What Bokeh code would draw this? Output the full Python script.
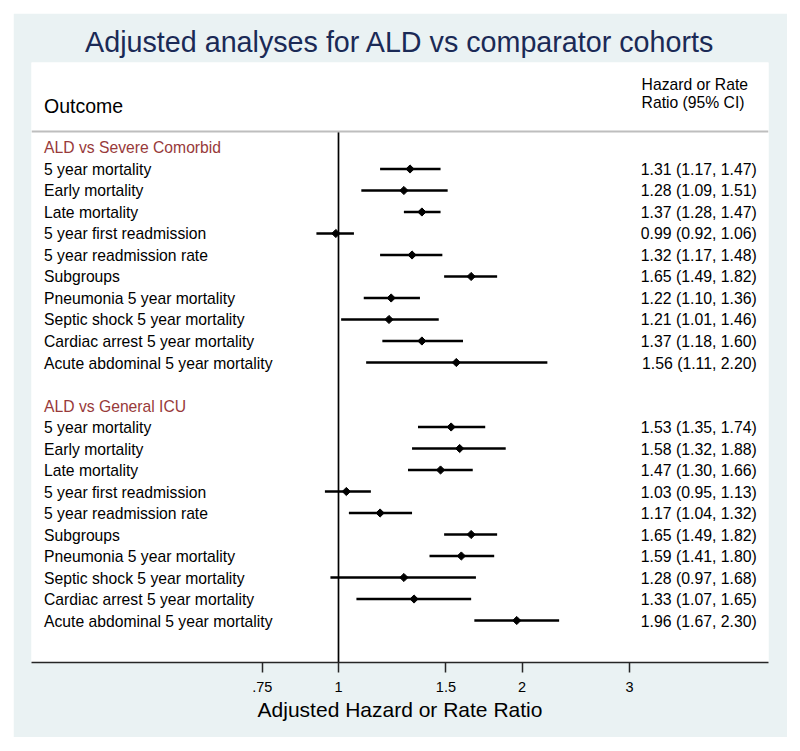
import math
from bokeh.plotting import figure
from bokeh.models import Range1d, FixedTicker, Span
from bokeh.core.properties import value
from bokeh.embed import file_html
from bokeh.resources import INLINE

# ---------------- data ----------------
groups = ["ALD vs Severe Comorbid", "ALD vs General ICU"]
outcomes = ["5 year mortality", "Early mortality", "Late mortality",
            "5 year first readmission", "5 year readmission rate", "Subgroups",
            "Pneumonia 5 year mortality", "Septic shock 5 year mortality",
            "Cardiac arrest 5 year mortality", "Acute abdominal 5 year mortality"]
severe_est = [1.31, 1.28, 1.37, 0.99, 1.32, 1.65, 1.22, 1.21, 1.37, 1.56]
severe_lo = [1.17, 1.09, 1.28, 0.92, 1.17, 1.49, 1.10, 1.01, 1.18, 1.11]
severe_hi = [1.47, 1.51, 1.47, 1.06, 1.48, 1.82, 1.36, 1.46, 1.60, 2.20]
general_est = [1.53, 1.58, 1.47, 1.03, 1.17, 1.65, 1.59, 1.28, 1.33, 1.96]
general_lo = [1.35, 1.32, 1.30, 0.95, 1.04, 1.49, 1.41, 0.97, 1.07, 1.67]
general_hi = [1.74, 1.88, 1.66, 1.13, 1.32, 1.82, 1.80, 1.68, 1.65, 2.30]
tick_values = [0.75, 1, 1.5, 2, 3]
tick_labels = [".75", "1", "1.5", "2", "3"]

FONT = value("Liberation Sans")

# ---------------- build rows ----------------
est, lo, hi, ys, labels, vals = [], [], [], [], [], []
head_y = []
row = 0
for g, (e_s, l_s, h_s) in zip(groups, [(severe_est, severe_lo, severe_hi),
                                        (general_est, general_lo, general_hi)]):
    head_y.append(row)
    row += 1
    for name, e, l, h in zip(outcomes, e_s, l_s, h_s):
        est.append(e); lo.append(l); hi.append(h); ys.append(row)
        labels.append(name)
        vals.append(f"{e:.2f} ({l:.2f}, {h:.2f})")
        row += 1
    row += 1

Y_TOP, Y_BOT = -3.953, 23.953
SEP_Y = -0.744
LABEL_X = 0.329
VALUE_X = 4.85
HEADER_X = 3.14

p = figure(width=774, height=724, x_axis_type="log",
           x_range=Range1d(0.3138, 5.070), y_range=Range1d(Y_BOT, Y_TOP),
           output_backend="svg", toolbar_location=None, y_axis_location=None,
           min_border_left=18, min_border_right=19, min_border_top=49,
           min_border_bottom=75, border_fill_color="#EAF2F3",
           background_fill_color="white", outline_line_color=None,
           margin=(13, 0, 0, 13))
p.grid.visible = False

p.title.text = "Adjusted analyses for ALD vs comparator cohorts"
p.title.align = "center"
p.title.text_font = "Liberation Sans"
p.title.text_font_size = "28.7px"
p.title.text_font_style = "normal"
p.title.text_color = "#1B2A56"
p.title.standoff = 9

ax = p.xaxis[0]
ax.ticker = FixedTicker(ticks=tick_values, minor_ticks=[])
ax.major_label_overrides = {float(v): t for v, t in zip(tick_values, tick_labels)}
ax.axis_label = "Adjusted Hazard or Rate Ratio"
ax.axis_label_text_font = "Liberation Sans"
ax.axis_label_text_font_size = "21px"
ax.axis_label_text_font_style = "normal"
ax.axis_label_text_color = "black"
ax.axis_label_standoff = 3
ax.major_label_text_font = "Liberation Sans"
ax.major_label_text_font_size = "14.5px"
ax.major_label_text_color = "black"
ax.major_label_standoff = 9
ax.axis_line_color = "#262626"
ax.axis_line_width = 1.5
ax.major_tick_line_color = "#262626"
ax.major_tick_line_width = 1.5
ax.major_tick_out = 10
ax.major_tick_in = 0
ax.minor_tick_line_color = None

# separator line and null line
p.add_layout(Span(location=SEP_Y, dimension="width", line_color="#BEBEBE", line_width=2))
p.segment(x0=[1], x1=[1], y0=[SEP_Y], y1=[Y_BOT], line_color="black", line_width=1.7)

# CIs and points
p.segment(x0=lo, x1=hi, y0=ys, y1=ys, line_color="black", line_width=2.3)
p.scatter(x=est, y=ys, marker="square", angle=math.pi / 4, size=5.8,
          fill_color="black", line_color="black", line_width=1)

# texts
p.text(x=[LABEL_X] * len(labels), y=ys, text=labels, text_font=FONT,
       text_font_size="15.7px", text_baseline="middle", text_align="left",
       text_color="black", y_offset=0.5)
p.text(x=[VALUE_X] * len(vals), y=ys, text=vals, text_font=FONT,
       text_font_size="15.8px", text_baseline="middle", text_align="right",
       text_color="black", y_offset=0.5)
p.text(x=[LABEL_X] * len(groups), y=head_y, text=groups, text_font=FONT,
       text_font_size="15.7px", text_baseline="middle", text_align="left",
       text_color="#983A3A", y_offset=0.5)
p.text(x=[LABEL_X], y=[-1.953], text=["Outcome"], text_font=FONT,
       text_font_size="19.5px", text_baseline="middle", text_align="left",
       text_color="black")
p.text(x=[HEADER_X, HEADER_X], y=[-2.93, -2.09], text=["Hazard or Rate", "Ratio (95% CI)"],
       text_font=FONT, text_font_size="15.7px", text_baseline="middle",
       text_align="left", text_color="black")

open("out.html", "w").write(file_html(p, INLINE))
